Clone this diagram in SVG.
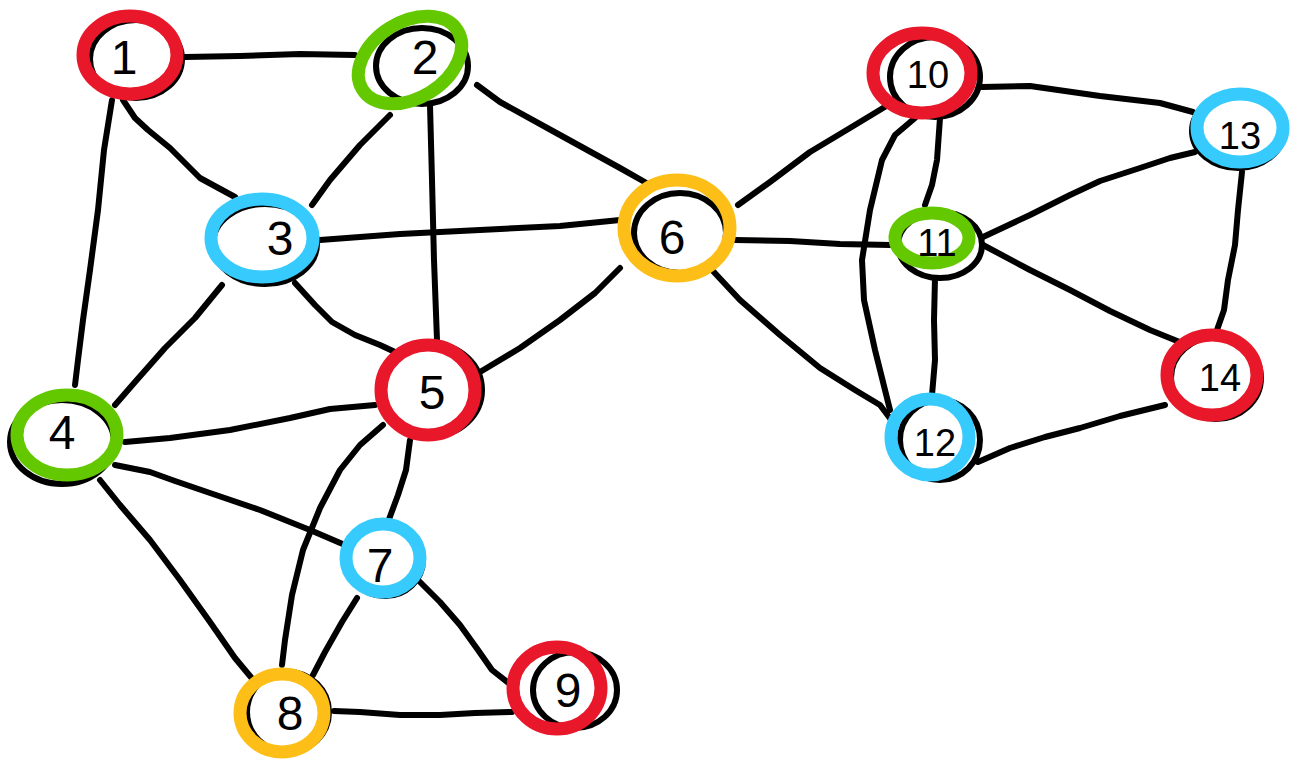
<svg xmlns="http://www.w3.org/2000/svg" width="1302" height="760" viewBox="0 0 1302 760">
<style>
.e{fill:none;stroke:#000;stroke-width:6;stroke-linecap:round;stroke-linejoin:round}
.k{fill:none;stroke:#000;stroke-width:6}
.c{fill:none;stroke-width:13;stroke-linecap:round}
.r{stroke:#e8172a}.g{stroke:#64c800}.b{stroke:#37cbfd}.y{stroke:#fdbf17}
.t{font-family:"Liberation Sans","DejaVu Sans",sans-serif;font-size:48px;fill:#000;text-anchor:middle;dominant-baseline:central}
.s{font-size:38px}
</style>
<rect width="1302" height="760" fill="#fff"/>
<g id="connectors">
<polyline class="e" points="185,57 240,56 300,54 355,55"/>
<polyline class="e" points="123,100 135,118 148,130 170,148 200,178 235,197"/>
<polyline class="e" points="112,100 104,150 98,210 90,270 83,320 78,360 75,385"/>
<polyline class="e" points="390,115 360,145 330,180 312,205"/>
<polyline class="e" points="430,105 432,180 434,260 437,340"/>
<polyline class="e" points="477,85 500,102 560,135 620,168 650,185"/>
<polyline class="e" points="320,240 360,237 400,234 440,232 500,229 560,226 620,220"/>
<polyline class="e" points="222,285 195,318 165,348 135,382 115,405"/>
<polyline class="e" points="295,283 315,305 332,322 355,335 380,345 395,352"/>
<polyline class="e" points="125,442 170,438 230,430 290,418 330,409 375,405"/>
<polyline class="e" points="115,465 150,472 175,481 210,493 260,510 310,530 345,545"/>
<polyline class="e" points="100,480 120,505 150,540 180,580 210,622 235,658 255,682"/>
<polyline class="e" points="480,372 520,348 560,320 595,293 620,268"/>
<polyline class="e" points="383,425 360,445 340,470 320,508 303,550 292,595 285,640 282,665"/>
<polyline class="e" points="410,440 406,470 398,495 388,522"/>
<polyline class="e" points="357,598 342,622 325,652 313,675"/>
<polyline class="e" points="418,580 440,602 460,625 478,650 492,670 515,688"/>
<polyline class="e" points="334,711 360,712 400,715 440,715 475,713 512,712"/>
<polyline class="e" points="738,205 770,182 810,152 850,128 888,105"/>
<polyline class="e" points="735,240 790,241 840,244 890,245"/>
<polyline class="e" points="712,270 740,300 780,335 820,368 855,390 880,405 895,425"/>
<polyline class="e" points="940,118 937,160 932,185 925,205"/>
<polyline class="e" points="915,118 895,135 882,160 870,210 862,260 864,300 875,350 885,390 890,410"/>
<polyline class="e" points="982,87 1030,86 1100,96 1160,103 1193,112"/>
<polyline class="e" points="983,237 1030,215 1070,195 1100,181 1140,168 1170,158 1195,152"/>
<polyline class="e" points="983,245 1030,270 1070,290 1110,311 1150,330 1187,345"/>
<polyline class="e" points="935,278 934,320 935,360 932,395"/>
<polyline class="e" points="1242,172 1238,210 1235,245 1228,280 1224,310 1217,330"/>
<polyline class="e" points="978,462 1010,448 1045,437 1080,428 1120,416 1165,405"/>
</g>
<g id="n1"><ellipse class="k" cx="136" cy="59" rx="46" ry="39"/><ellipse class="c r" cx="130" cy="55" rx="47" ry="39"/><text class="t" x="124" y="57">1</text></g>
<g id="n2"><ellipse class="k" cx="422" cy="66" rx="46" ry="38"/><ellipse class="c g" cx="410" cy="60" rx="56" ry="38" transform="rotate(-32 410 60)"/><text class="t" x="425" y="57">2</text></g>
<g id="n3"><ellipse class="k" cx="265" cy="244" rx="52" ry="40"/><ellipse class="c b" cx="262" cy="238" rx="51" ry="39"/><text class="t" x="280" y="238">3</text></g>
<g id="n4"><ellipse class="k" cx="62" cy="442" rx="52" ry="42"/><ellipse class="c g" cx="67" cy="435" rx="50" ry="40"/><text class="t" x="62" y="432">4</text></g>
<g id="n5"><ellipse class="k" cx="432" cy="390" rx="50" ry="46"/><ellipse class="c r" cx="428" cy="390" rx="47" ry="45"/><text class="t" x="432" y="392">5</text></g>
<g id="n6"><ellipse class="k" cx="680" cy="233" rx="46" ry="40"/><ellipse class="c y" cx="677" cy="228" rx="53" ry="48"/><text class="t" x="672" y="237">6</text></g>
<g id="n7"><ellipse class="k" cx="385" cy="560" rx="38" ry="36"/><ellipse class="c b" cx="383" cy="558" rx="37" ry="34"/><text class="t" x="380" y="565">7</text></g>
<g id="n8"><ellipse class="k" cx="288" cy="712" rx="41" ry="40"/><ellipse class="c y" cx="282" cy="713" rx="42" ry="39"/><text class="t" x="290" y="713">8</text></g>
<g id="n9"><ellipse class="k" cx="575" cy="690" rx="42" ry="38"/><ellipse class="c r" cx="557" cy="688" rx="44" ry="41"/><text class="t" x="568" y="690">9</text></g>
<g id="n10"><ellipse class="k" cx="935" cy="77" rx="45" ry="40"/><ellipse class="c r" cx="922" cy="73" rx="49" ry="40"/><text class="t s" x="928" y="75">10</text></g>
<g id="n11"><ellipse class="k" cx="940" cy="245" rx="42" ry="33"/><ellipse class="c g" cx="932" cy="238" rx="37" ry="25"/><text class="t s" x="937" y="243">11</text></g>
<g id="n12"><ellipse class="k" cx="940" cy="440" rx="40" ry="40"/><ellipse class="c b" cx="930" cy="437" rx="39" ry="38"/><text class="t s" x="935" y="443">12</text></g>
<g id="n13"><ellipse class="k" cx="1238" cy="131" rx="46" ry="37"/><ellipse class="c b" cx="1240" cy="128" rx="43" ry="34"/><text class="t s" x="1240" y="136">13</text></g>
<g id="n14"><ellipse class="k" cx="1216" cy="378" rx="45" ry="41"/><ellipse class="c r" cx="1212" cy="375" rx="45" ry="40"/><text class="t s" x="1220" y="378">14</text></g>
</svg>
